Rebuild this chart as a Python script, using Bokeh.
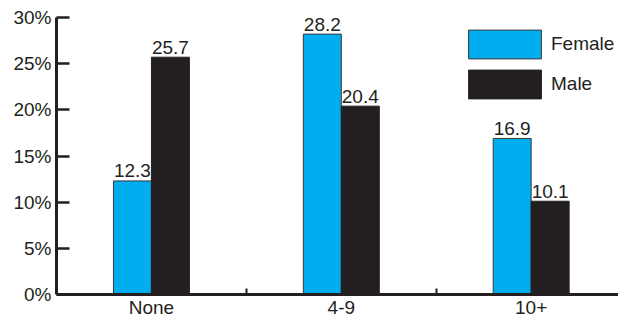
from bokeh.plotting import figure
from bokeh.models import (Range1d, FixedTicker, CustomJSTickFormatter, ColumnDataSource,
                          Legend, LegendItem)
from bokeh.transform import dodge
from bokeh.core.properties import value
from bokeh.embed import file_html
from bokeh.resources import INLINE

categories = ["None", "4-9", "10+"]
female = [12.3, 28.2, 16.9]
male = [25.7, 20.4, 10.1]
y_ticks = [0, 5, 10, 15, 20, 25, 30]

FEMALE_COLOR = "#00AEEF"
MALE_COLOR = "#231F20"
TEXT_COLOR = "#231F20"
FONT = "Liberation Sans"

pos = [i + 0.5 for i in range(len(categories))]
bounds = [i for i in range(1, len(categories))]
src = ColumnDataSource(dict(
    x=pos, female=female, male=male,
    female_lbl=[f"{v:.1f}" for v in female],
    male_lbl=[f"{v:.1f}" for v in male],
))

p = figure(width=618, height=320, output_backend="svg", toolbar_location=None,
           x_range=Range1d(0, len(categories) - 0.04), y_range=Range1d(0, y_ticks[-1]),
           min_border_left=56, min_border_right=0, min_border_top=17, min_border_bottom=24)
p.outline_line_color = None
p.xgrid.visible = False
p.ygrid.visible = False

fr = p.vbar(x=dodge("x", -0.1), top="female", width=0.2, source=src,
            fill_color=FEMALE_COLOR, line_color="#3a3a3a", line_width=1)
mr = p.vbar(x=dodge("x", 0.1), top="male", width=0.2, source=src,
            fill_color=MALE_COLOR, line_color=MALE_COLOR, line_width=1)

for col, off in (("female", -0.1), ("male", 0.1)):
    p.text(x=dodge("x", off), y=col, text=col + "_lbl", source=src,
           text_align="center", text_baseline="alphabetic", y_offset=-10,
           text_font=value(FONT), text_font_size="19px", text_color=TEXT_COLOR)

# x axis
xa = p.xaxis[0]
xa.ticker = FixedTicker(ticks=pos, minor_ticks=bounds)
xa.formatter = CustomJSTickFormatter(args=dict(labels=categories),
                                     code="return labels[Math.floor(tick)];")
xa.major_tick_line_color = None
xa.major_tick_in = 0
xa.major_tick_out = 0
xa.minor_tick_in = 6
xa.minor_tick_out = 0
xa.minor_tick_line_width = 2
xa.minor_tick_line_color = TEXT_COLOR
xa.axis_line_width = 3
xa.axis_line_color = TEXT_COLOR
xa.major_label_text_font = FONT
xa.major_label_text_font_size = "19px"
xa.major_label_text_color = TEXT_COLOR
xa.major_label_standoff = 2

# y axis
ya = p.yaxis[0]
ya.ticker = FixedTicker(ticks=y_ticks)
ya.formatter = CustomJSTickFormatter(code="return tick + '%';")
ya.major_tick_in = 13
ya.major_tick_out = 0
ya.major_tick_line_width = 2.5
ya.major_tick_line_color = TEXT_COLOR
ya.minor_tick_line_color = None
ya.axis_line_width = 3
ya.axis_line_color = TEXT_COLOR
ya.major_label_text_font = FONT
ya.major_label_text_font_size = "19px"
ya.major_label_text_color = TEXT_COLOR
ya.major_label_standoff = 5

legend = Legend(items=[LegendItem(label="Female", renderers=[fr]),
                       LegendItem(label="Male", renderers=[mr])],
                location=(403, 192), glyph_width=91, glyph_height=36, spacing=4,
                label_standoff=1, padding=0, margin=0, border_line_color=None,
                background_fill_alpha=0, label_text_font=FONT,
                label_text_font_size="19px", label_text_color=TEXT_COLOR)
p.add_layout(legend)

open("out.html", "w").write(file_html(p, INLINE))
